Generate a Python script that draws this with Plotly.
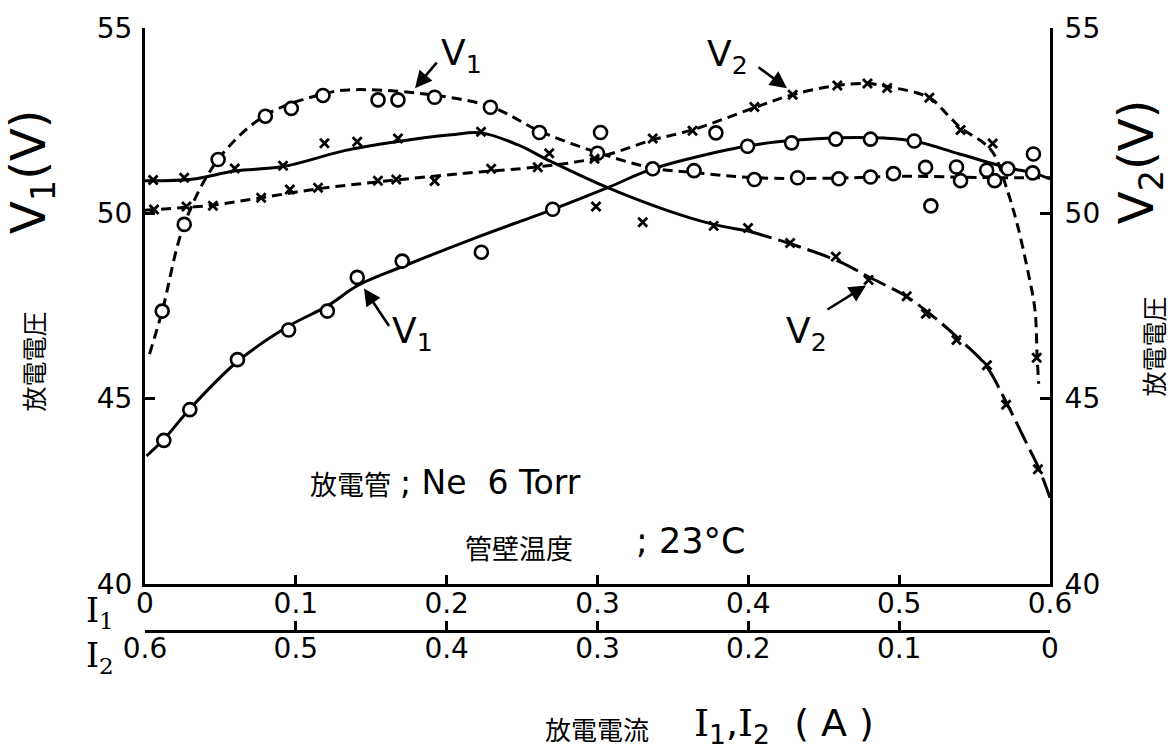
import numpy as np
import plotly.graph_objects as go

# ---------------- data ----------------
# I1 in A, voltages in V.  V2 curves are drawn against I2 = 0.6 - I1.

# V1, dashed condition (open circles) - measured points
v1d_i1 = [0.0114, 0.026, 0.0485, 0.0798, 0.097, 0.118, 0.1545, 0.1677, 0.192, 0.229,
          0.2615, 0.300, 0.302, 0.364, 0.404, 0.4327, 0.46, 0.481, 0.4962, 0.5175,
          0.521, 0.538, 0.5407, 0.558, 0.5633, 0.589]
v1d_v = [47.36, 49.7, 51.45, 52.62, 52.83, 53.18, 53.06, 53.06, 53.13, 52.86,
         52.18, 51.62, 52.18, 51.15, 50.91, 50.96, 50.93, 50.98, 51.07, 51.24,
         50.2, 51.25, 50.88, 51.16, 50.88, 51.6]
# V1, dashed condition - drawn curve
v1d_curve_i1 = [0.003, 0.0114, 0.026, 0.0485, 0.08, 0.118, 0.135, 0.181, 0.229, 0.2615,
                0.300, 0.3366, 0.364, 0.404, 0.46, 0.50, 0.56, 0.60]
v1d_curve_v = [46.2, 47.36, 49.7, 51.45, 52.65, 53.22, 53.33, 53.24, 52.88, 52.22,
               51.64, 51.22, 51.1, 50.96, 50.95, 51.0, 50.96, 50.96]

# V1, solid condition (open circles) - measured points
v1s_i1 = [0.0125, 0.0297, 0.0613, 0.0952, 0.1209, 0.1407, 0.1705, 0.223, 0.2703, 0.3366,
          0.3785, 0.3995, 0.4287, 0.458, 0.481, 0.51, 0.572, 0.5885]
v1s_v = [43.87, 44.7, 46.05, 46.85, 47.36, 48.27, 48.71, 48.95, 50.11, 51.2,
         52.17, 51.81, 51.9, 52.0, 52.0, 51.95, 51.2, 51.09]
# V1, solid condition - drawn curve
v1s_curve_i1 = [0.001, 0.0125, 0.0297, 0.0613, 0.095, 0.121, 0.141, 0.17, 0.22, 0.27,
                0.3068, 0.3366, 0.40, 0.43, 0.46, 0.49, 0.51, 0.54, 0.572, 0.5885, 0.60]
v1s_curve_v = [43.45, 43.9, 44.72, 46.0, 46.95, 47.5, 48.05, 48.55, 49.35, 50.1,
               50.69, 51.2, 51.82, 51.97, 52.04, 52.03, 51.95, 51.6, 51.23, 51.09, 50.93]

# V2, dashed condition (crosses) - measured points
v2d_i1 = [0.006, 0.0275, 0.045, 0.077, 0.096, 0.1147, 0.1544, 0.1666, 0.192, 0.2295,
          0.2604, 0.298, 0.3366, 0.363, 0.404, 0.4294, 0.459, 0.479, 0.492, 0.52,
          0.5407, 0.562, 0.5912]
v2d_v = [50.1, 50.18, 50.2, 50.42, 50.64, 50.69, 50.88, 50.91, 50.87, 51.2,
         51.24, 51.47, 52.02, 52.23, 52.87, 53.2, 53.45, 53.5, 53.38, 53.12,
         52.25, 51.88, 46.1]
# V2, dashed condition - drawn curve
v2d_curve_i1 = [0.0, 0.0275, 0.045, 0.077, 0.1147, 0.155, 0.2096, 0.26, 0.298, 0.3366,
                0.363, 0.404, 0.4294, 0.459, 0.479, 0.492, 0.52, 0.532, 0.541, 0.556,
                0.5628, 0.5717, 0.5783, 0.585, 0.59, 0.5915, 0.5925]
v2d_curve_v = [50.08, 50.16, 50.22, 50.42, 50.66, 50.85, 51.07, 51.25, 51.48, 51.98,
               52.25, 52.85, 53.2, 53.45, 53.5, 53.42, 53.12, 52.66, 52.3, 51.9,
               51.6, 50.62, 49.7, 48.5, 47.4, 46.1, 45.4]

# V2, solid condition (crosses) - measured points
v2s_i1 = [0.0054, 0.026, 0.0595, 0.0915, 0.119, 0.1407, 0.1677, 0.2228, 0.268, 0.299,
          0.33, 0.377, 0.3998, 0.4277, 0.458, 0.4797, 0.505, 0.5177, 0.538, 0.5582,
          0.5709, 0.592]
v2s_v = [50.9, 50.96, 51.21, 51.28, 51.89, 51.93, 52.02, 52.2, 51.62, 50.18,
         49.76, 49.66, 49.6, 49.2, 48.83, 48.2, 47.76, 47.29, 46.58, 45.9,
         44.83, 43.09]
# V2, solid condition - drawn curve (solid part, then long-dashed part)
v2s_curve_a_i1 = [0.0, 0.031, 0.0595, 0.0915, 0.1323, 0.1632, 0.203, 0.2228, 0.247, 0.269,
                  0.3068, 0.3465, 0.375, 0.40]
v2s_curve_a_v = [50.88, 50.92, 51.14, 51.26, 51.69, 51.91, 52.12, 52.17, 51.85, 51.4,
                 50.69, 50.07, 49.72, 49.52]
v2s_curve_b_i1 = [0.40, 0.43, 0.46, 0.48, 0.505, 0.52, 0.54, 0.557, 0.571, 0.585, 0.593, 0.60]
v2s_curve_b_v = [49.52, 49.15, 48.7, 48.28, 47.75, 47.3, 46.6, 45.92, 44.9, 43.75, 43.08, 42.32]

# axis ticks
i1_ticks = [0, 0.1, 0.2, 0.3, 0.4, 0.5, 0.6]
i1_labels = ["0", "0.1", "0.2", "0.3", "0.4", "0.5", "0.6"]
i2_ticks = [0.6, 0.5, 0.4, 0.3, 0.2, 0.1, 0]
i2_labels = ["0.6", "0.5", "0.4", "0.3", "0.2", "0.1", "0"]
v_ticks = [40, 45, 50, 55]
v_labels = ["40", "45", "50", "55"]

# ---------------- figure ----------------
W, H = 1175, 754
L, R, T, B = 145, 125, 19, 74
PH = H - T - B
Y_BOTTOM_PX = 582.5
I2_LINE_PX = 630


def px(x):
    return (x - L) / (W - L - R)


def py(y):
    return (H - B - y) / PH


def to_i2(i1):
    return list(0.6 - np.array(i1))


BLACK = "black"
DASH = "10px,6px"
LONGDASH = "24px,7px"
NUM_FONT = "DejaVu Sans"
CJK_FONT = "Noto Sans CJK JP"
SERIF = "DejaVu Serif"

fig = go.Figure()


def add_line(xs, ys, dash, xa="x", ya="y"):
    fig.add_trace(go.Scatter(
        x=xs, y=ys, mode="lines", xaxis=xa, yaxis=ya,
        line=dict(color=BLACK, width=3, dash=dash, shape="spline", smoothing=1.0),
        hoverinfo="skip", showlegend=False))


def add_circles(xs, ys, xa="x", ya="y"):
    fig.add_trace(go.Scatter(
        x=xs, y=ys, mode="markers", xaxis=xa, yaxis=ya,
        marker=dict(symbol="circle", size=13, color="white",
                    line=dict(color=BLACK, width=2.6)),
        hoverinfo="skip", showlegend=False))


def add_crosses(xs, ys, xa="x", ya="y"):
    fig.add_trace(go.Scatter(
        x=xs, y=ys, mode="markers", xaxis=xa, yaxis=ya,
        marker=dict(symbol="x-thin", size=9, color=BLACK,
                    line=dict(color=BLACK, width=2.8)),
        hoverinfo="skip", showlegend=False))


# V1 (left axis, I1 axis)
add_line(v1d_curve_i1, v1d_curve_v, DASH)
add_line(v1s_curve_i1, v1s_curve_v, "solid")
# V2 (right axis, I2 axis)
add_line(to_i2(v2d_curve_i1), v2d_curve_v, DASH, "x2", "y2")
add_line(to_i2(v2s_curve_a_i1), v2s_curve_a_v, "solid", "x2", "y2")
add_line(to_i2(v2s_curve_b_i1), v2s_curve_b_v, LONGDASH, "x2", "y2")
add_crosses(to_i2(v2d_i1), v2d_v, "x2", "y2")
add_crosses(to_i2(v2s_i1), v2s_v, "x2", "y2")
add_circles(v1d_i1, v1d_v)
add_circles(v1s_i1, v1s_v)

y_dom0 = py(Y_BOTTOM_PX)
axis_common = dict(showgrid=False, zeroline=False, showline=True, linecolor=BLACK,
                   linewidth=3, ticks="inside", tickcolor=BLACK, tickwidth=2.5,
                   tickfont=dict(family=NUM_FONT, size=28, color=BLACK))

fig.update_layout(
    width=W, height=H,
    margin=dict(l=L, r=R, t=T, b=B),
    paper_bgcolor="white", plot_bgcolor="white",
    showlegend=False,
    xaxis=dict(range=[0, 0.6], tickvals=i1_ticks, ticktext=i1_labels, ticklen=9,
               anchor="y", ticklabelstandoff=-7, **axis_common),
    xaxis2=dict(range=[0.6, 0], tickvals=i2_ticks, ticktext=i2_labels, ticklen=9,
                overlaying="x", anchor="free", position=py(I2_LINE_PX), side="bottom",
                ticklabelstandoff=-8, **axis_common),
    yaxis=dict(range=[40, 55], tickvals=v_ticks, ticktext=v_labels, ticklen=10,
               domain=[y_dom0, 1], anchor="x", side="left", ticklabelstandoff=4,
               **axis_common),
    yaxis2=dict(range=[40, 55], tickvals=v_ticks, ticktext=v_labels, ticklen=10,
                domain=[y_dom0, 1], anchor="x", overlaying="y", side="right",
                ticklabelstandoff=6, **axis_common),
)

ann = []


def text(xp, yp, s, size, family=NUM_FONT, angle=0, xanchor="center"):
    ann.append(dict(x=px(xp), y=py(yp), xref="paper", yref="paper", text=s,
                    showarrow=False, textangle=angle, xanchor=xanchor, yanchor="middle",
                    font=dict(family=family, size=size, color=BLACK)))


def arrow(head, tail):
    ann.append(dict(x=px(head[0]), y=py(head[1]), xref="paper", yref="paper", text="",
                    showarrow=True, ax=tail[0] - head[0], ay=tail[1] - head[1],
                    arrowhead=2, arrowsize=1.3, arrowwidth=2.6, arrowcolor=BLACK))


# axis titles
text(31, 165, "V<sub>1</sub>(V)", 48, angle=-90)
text(33, 357, "放電電圧", 25, family=CJK_FONT, angle=-90)
text(1139, 155, "V<sub>2</sub>(V)", 48, angle=-90)
text(1153, 342, "放電電圧", 25, family=CJK_FONT, angle=-90)
text(84, 612, "I<sub>1</sub>", 33, family=SERIF, xanchor="left")
text(84, 657, "I<sub>2</sub>", 33, family=SERIF, xanchor="left")
text(597, 729, "放電電流", 26, family=CJK_FONT)
text(692, 726, "<span style='font-family:DejaVu Serif'>I</span><sub>1</sub>,"
     "<span style='font-family:DejaVu Serif'>I</span><sub>2</sub>\u00a0\u00a0(\u00a0A\u00a0)",
     38, xanchor="left")

# condition notes
text(308, 481, "放電管", 27, family=CJK_FONT, xanchor="left")
text(398, 480, ";\u00a0Ne\u00a0\u00a06\u00a0Torr", 33, xanchor="left")
text(463, 546, "管壁温度", 27, family=CJK_FONT, xanchor="left")
text(634, 539, ";\u00a023°C", 35, xanchor="left")

# curve labels with arrows
text(461, 47, "V<sub>1</sub>", 36)
arrow((415, 80), (438, 53))
text(412, 329, "V<sub>1</sub>", 36)
arrow((364, 283), (390, 322))
text(727, 48, "V<sub>2</sub>", 36)
arrow((787, 80), (757, 58))
text(806, 329, "V<sub>2</sub>", 36)
arrow((866, 280), (826, 305))

fig.update_layout(annotations=ann)
fig.write_html("out.html")
